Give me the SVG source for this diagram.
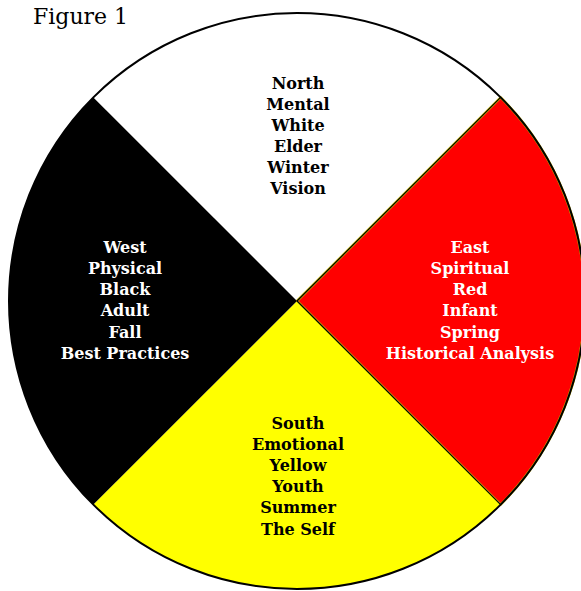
<svg xmlns="http://www.w3.org/2000/svg" width="581" height="591" viewBox="0 0 581 591">
<style>
.lbl{font-family:"DejaVu Serif","Liberation Serif",serif;font-weight:bold;font-size:16px;text-anchor:middle}
.dk{fill:#000}
.lt{fill:#fff}
</style>
<rect width="581" height="591" fill="#fff"/>
<text x="33" y="24" font-family="DejaVu Serif, serif" font-size="22" fill="#000">Figure 1</text>
<g id="wheel">
<g id="north"><path d="M297,301 L93.4,97.4 A288,288 0 0 1 500.6,97.4 Z" fill="#fff"/></g>
<g id="east"><path d="M297,301 L500.6,97.4 A288,288 0 0 1 500.6,504.6 Z" fill="#ff0000" stroke="#c8b400" stroke-width="2.5"/></g>
<g id="south"><path d="M297,301 L500.6,504.6 A288,288 0 0 1 93.4,504.6 Z" fill="#ffff00"/></g>
<g id="west"><path d="M297,301 L93.4,504.6 A288,288 0 0 1 93.4,97.4 Z" fill="#000"/></g>
</g>
<g id="connectors" stroke="#000" stroke-width="1.2" fill="none">
<line x1="297" y1="301" x2="500.6" y2="97.4"/>
<line x1="297" y1="301" x2="500.6" y2="504.6"/>
<circle cx="297" cy="301" r="288" stroke-width="2"/>
</g>
<g id="north-text" class="lbl dk"><text x="298" y="89">North</text><text x="298" y="110">Mental</text><text x="298" y="131">White</text><text x="298" y="152">Elder</text><text x="298" y="173">Winter</text><text x="298" y="194">Vision</text></g>
<g id="east-text" class="lbl lt"><text x="470" y="253">East</text><text x="470" y="274">Spiritual</text><text x="470" y="295">Red</text><text x="470" y="316">Infant</text><text x="470" y="338">Spring</text><text x="470" y="359">Historical Analysis</text></g>
<g id="west-text" class="lbl lt"><text x="125" y="253">West</text><text x="125" y="274">Physical</text><text x="125" y="295">Black</text><text x="125" y="316">Adult</text><text x="125" y="338">Fall</text><text x="125" y="359">Best Practices</text></g>
<g id="south-text" class="lbl dk"><text x="298" y="429">South</text><text x="298" y="450">Emotional</text><text x="298" y="471">Yellow</text><text x="298" y="492">Youth</text><text x="298" y="513">Summer</text><text x="298" y="535">The Self</text></g>
</svg>
